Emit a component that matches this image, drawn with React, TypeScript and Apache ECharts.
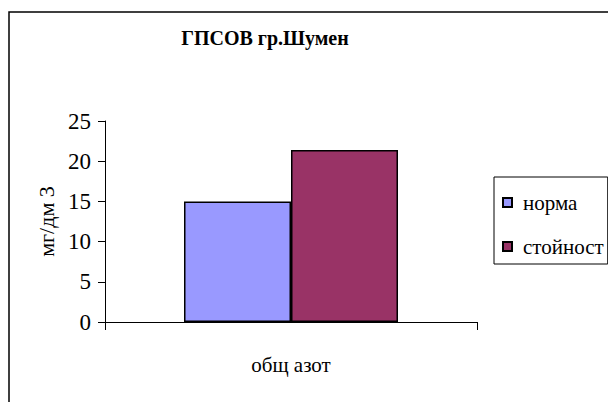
import React, { useEffect, useRef } from "react";
import * as echarts from "echarts";

const categories = ["общ азот"];
const normaValues = [15];
const stoinostValues = [21.4];
const yTicks = { min: 0, max: 25, interval: 5 };
const titleText = "ГПСОВ гр.Шумен";
const yName = "мг/дм 3";
const legendNames = ["норма", "стойност"];

export default function App() {
  const ref = useRef<HTMLDivElement>(null);
  useEffect(() => {
    if (!ref.current) return;
    const chart = echarts.init(ref.current, undefined, { renderer: "svg" });
    const font = "Liberation Serif";
    chart.setOption({
      animation: false,
      backgroundColor: "#ffffff",
      textStyle: { fontFamily: font },
      title: {
        text: titleText,
        left: 260,
        top: 23,
        textAlign: "center",
        textStyle: { fontFamily: font, fontWeight: "bold", fontSize: 20, color: "#000" },
      },
      graphic: [
        {
          type: "rect",
          shape: { x: 9, y: 12, width: 640, height: 440 },
          style: { fill: "none", stroke: "#000", lineWidth: 1.5 },
          silent: true,
          z: 100,
        },
      ],
      legend: {
        orient: "vertical",
        left: 494,
        top: 177,
        padding: [15, 4, 7, 8],
        itemGap: 23,
        itemWidth: 9,
        itemHeight: 9,
        borderColor: "#000",
        borderWidth: 1,
        icon: "rect",
        textStyle: { fontFamily: font, fontSize: 21, color: "#000", padding: [0, 0, 0, 6] },
        data: legendNames,
      },
      grid: { left: 105, top: 121, right: 131, bottom: 80, containLabel: false },
      xAxis: {
        type: "category",
        data: categories,
        axisLine: { lineStyle: { color: "#000", width: 1 } },
        axisTick: { show: true, length: 8, lineStyle: { color: "#000" } },
        axisLabel: { fontFamily: font, fontSize: 21, color: "#000", margin: 32 },
      },
      yAxis: {
        type: "value",
        min: yTicks.min,
        max: yTicks.max,
        interval: yTicks.interval,
        name: yName,
        nameLocation: "middle",
        nameGap: 34,
        nameRotate: 90,
        nameTextStyle: { fontFamily: font, fontSize: 22, color: "#000" },
        axisLine: { show: true, lineStyle: { color: "#000", width: 1 } },
        axisTick: { show: true, length: 7, lineStyle: { color: "#000" } },
        axisLabel: { fontFamily: font, fontSize: 23, color: "#000", margin: 14 },
        splitLine: { show: false },
      },
      series: [
        {
          name: legendNames[0],
          type: "bar",
          data: normaValues,
          barWidth: 107,
          barGap: "0%",
          itemStyle: { color: "#9999FF", borderColor: "#000", borderWidth: 1.5 },
        },
        {
          name: legendNames[1],
          type: "bar",
          data: stoinostValues,
          barWidth: 107,
          barGap: "0%",
          itemStyle: { color: "#993366", borderColor: "#000", borderWidth: 1.5 },
        },
      ],
    });
    return () => chart.dispose();
  }, []);
  return <div ref={ref} style={{ width: 608, height: 402, position: "absolute", left: 0, top: 0 }} />;
}
